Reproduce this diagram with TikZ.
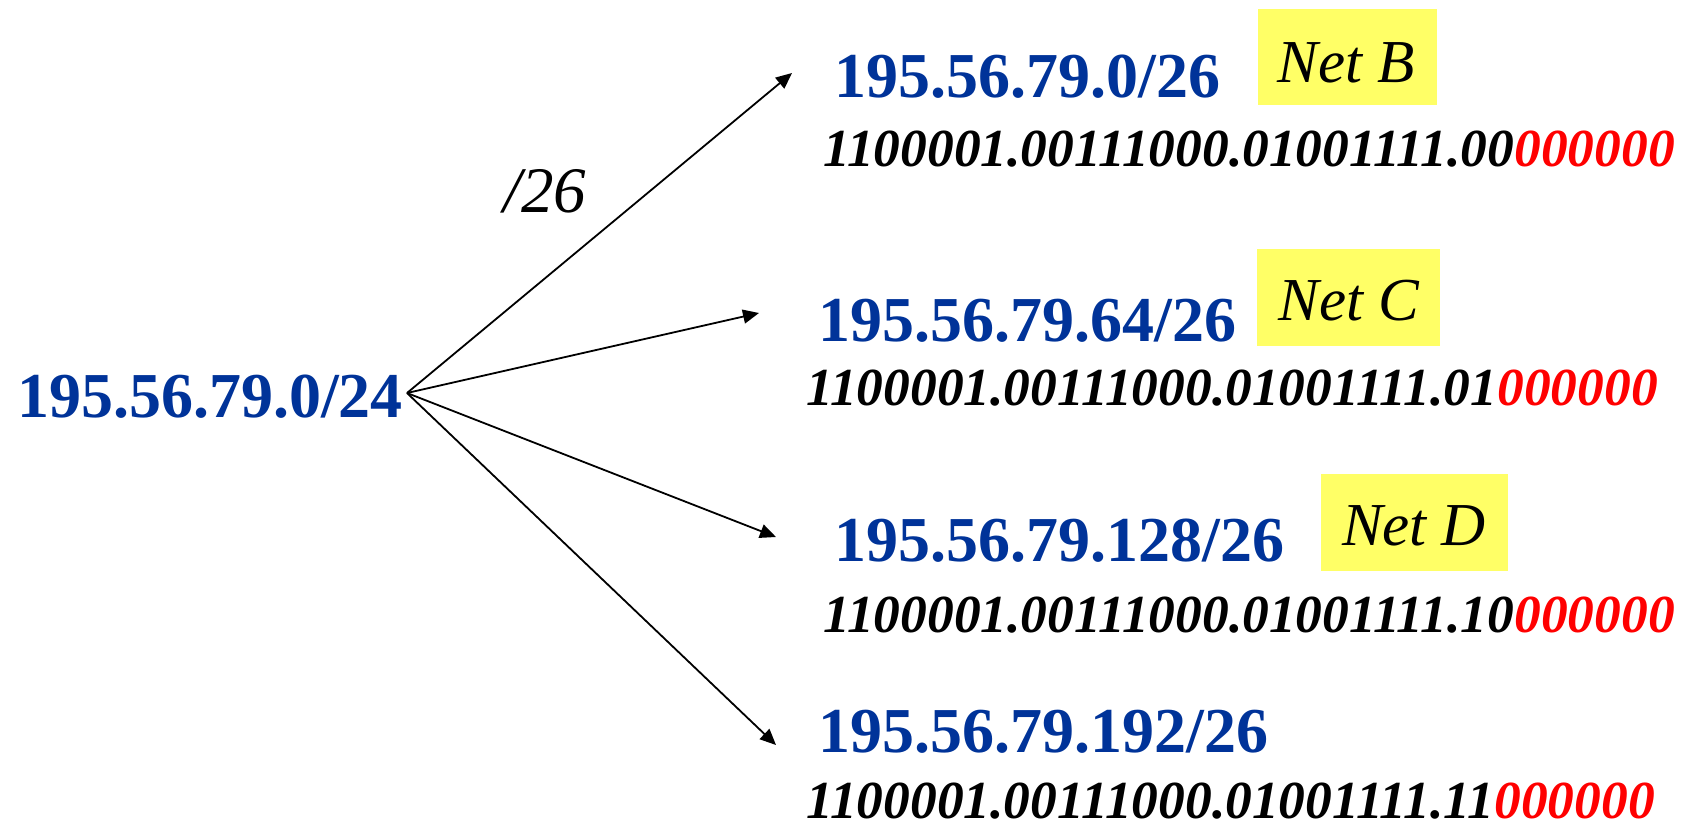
\documentclass[tikz,border=0pt]{standalone}
\usepackage{fontspec}
\setmainfont{Liberation Serif}
\usetikzlibrary{arrows.meta}
\definecolor{netblue}{RGB}{0,51,153}
\definecolor{netyellow}{RGB}{255,255,102}
\definecolor{hostred}{RGB}{255,0,0}
\begin{document}
\begin{tikzpicture}[x=1pt,y=-1pt,
  netprefix/.style={anchor=base west,inner sep=0pt,text=netblue,
    font=\fontsize{64}{70}\selectfont\bfseries},
  bitstring/.style={anchor=base west,inner sep=0pt,
    font=\fontsize{53.5}{56}\selectfont\bfseries\itshape},
  netname/.style={anchor=base,inner sep=0pt,
    font=\fontsize{61}{64}\selectfont\itshape},
  splitarrow/.style={line width=1.8pt,-{Triangle[length=16pt,width=14pt]}}]
\useasboundingbox (0,0) rectangle (1681,825);

% parent block
\node[netprefix] (parent) at (17,417) {195.56.79.0/24};
\coordinate (src) at (407,393);

% subnet prefixes
\node[netprefix] (pB) at (834,97)  {195.56.79.0/26};
\node[netprefix] (pC) at (818,341) {195.56.79.64/26};
\node[netprefix] (pD) at (834,561) {195.56.79.128/26};
\node[netprefix] (pE) at (818,752) {195.56.79.192/26};

% binary forms, host bits in red
\node[bitstring] (bB) at (823,166) {1100001.00111000.01001111.00\textcolor{hostred}{000000}};
\node[bitstring] (bC) at (806,405) {1100001.00111000.01001111.01\textcolor{hostred}{000000}};
\node[bitstring] (bD) at (823,632) {1100001.00111000.01001111.10\textcolor{hostred}{000000}};
\node[bitstring] (bE) at (806,818) {1100001.00111000.01001111.11\textcolor{hostred}{000000}};

% network name tags
\fill[netyellow] (1258,9) rectangle (1437,105);
\fill[netyellow] (1257,249) rectangle (1440,346);
\fill[netyellow] (1321,474) rectangle (1508,571);
\node[netname] (nB) at (1346,82)  {Net B};
\node[netname] (nC) at (1349,320) {Net C};
\node[netname] (nD) at (1414,545) {Net D};

% split arrows
\coordinate (tB) at (792,73);
\coordinate (tC) at (759,313);
\coordinate (tD) at (776,537);
\coordinate (tE) at (776,745);
\draw[splitarrow] (src) -- (tB);
\draw[splitarrow] (src) -- (tC);
\draw[splitarrow] (src) -- (tD);
\draw[splitarrow] (src) -- (tE);

\node[anchor=base west,inner sep=0pt,font=\fontsize{65}{68}\selectfont\itshape] (mask) at (503,212) {/26};
\end{tikzpicture}
\end{document}
